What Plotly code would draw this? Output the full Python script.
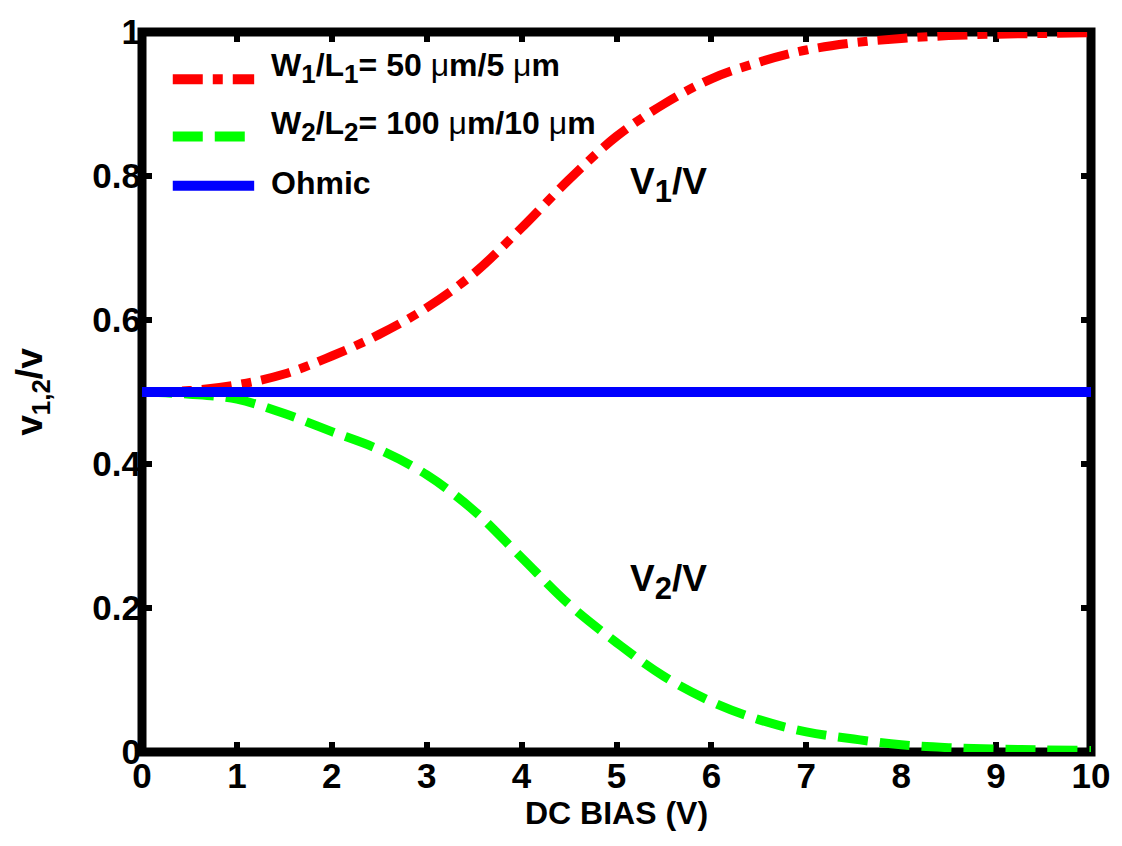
import plotly.graph_objects as go

bias = [0, 0.5, 1, 1.5, 2, 2.5, 3, 3.5, 4, 4.5, 5, 5.5, 6, 6.5, 7, 7.5, 8, 8.5, 9, 9.5, 10]
v1_ratio = [0.5, 0.502, 0.51, 0.525, 0.55, 0.58, 0.617, 0.665, 0.728, 0.795, 0.855, 0.9, 0.935,
            0.958, 0.975, 0.985, 0.991, 0.995, 0.997, 0.998, 0.999]
v2_ratio = [0.5, 0.497, 0.49, 0.47, 0.445, 0.42, 0.385, 0.335, 0.27, 0.205, 0.152, 0.105, 0.07,
            0.045, 0.028, 0.018, 0.01, 0.006, 0.004, 0.003, 0.002]
ohmic_x = [0, 10]
ohmic_y = [0.5, 0.5]

MU = '<span style="font-weight:normal">\u03bc</span>'
def SUB(s, size=26):
    return '<sub><span style="font-size:%dpx">%s</span></sub>' % (size, s)
legend_labels = ["W" + SUB("1") + "/L" + SUB("1") + "= 50 " + MU + "m/5 " + MU + "m",
                 "W" + SUB("2") + "/L" + SUB("2") + "= 100 " + MU + "m/10 " + MU + "m",
                 "Ohmic"]
x_ticks = list(range(0, 11))
y_ticks = [0, 0.2, 0.4, 0.6, 0.8, 1]
y_tick_text = ["0", "0.2", "0.4", "0.6", "0.8", "1"]

RED = "#ff0000"
GREEN = "#00ff00"
BLUE = "#0000ff"
RED_DASH = "30px,10px,10px,10px"
GREEN_DASH = "30px,12px"
FAM = "Arial, Liberation Sans, sans-serif"
def F(size):
    return dict(family=FAM, size=size, color="black", weight="bold")

fig = go.Figure()
fig.add_trace(go.Scatter(x=bias, y=v1_ratio, mode="lines", line=dict(color=RED, width=9, dash=RED_DASH, shape="spline"), showlegend=False))
fig.add_trace(go.Scatter(x=bias, y=v2_ratio, mode="lines", line=dict(color=GREEN, width=9, dash=GREEN_DASH, shape="spline"), showlegend=False))
fig.add_trace(go.Scatter(x=ohmic_x, y=ohmic_y, mode="lines", line=dict(color=BLUE, width=10), showlegend=False))

L, R, T, B = 142, 1098, 22, 752
W, H = R - L, B - T
def px(xp):
    return (xp - L) / W
def py(yp):
    return (B - yp) / H

# frame
fig.add_shape(type="rect", xref="paper", yref="paper", x0=0, x1=1, y0=0, y1=1,
              line=dict(color="black", width=9), layer="below")

# manual legend
leg_rows = [(70, RED, RED_DASH, 59), (128, GREEN, GREEN_DASH, 117), (178, BLUE, "solid", 175)]
for (yy, col, dsh, ty), lab in zip(leg_rows, legend_labels):
    fig.add_shape(type="line", xref="paper", yref="paper", x0=px(173), x1=px(255), y0=py(yy), y1=py(yy),
                  line=dict(color=col, width=10, dash=dsh))
    fig.add_annotation(xref="paper", yref="paper", x=px(270), y=py(ty), text=lab, showarrow=False,
                       xanchor="left", yanchor="middle", font=F(32))

fig.add_annotation(x=5.55, y=0.787, text="V" + SUB("1", 31) + "/V",
                   showarrow=False, yanchor="middle", font=F(37))
fig.add_annotation(x=5.55, y=0.236, text="V" + SUB("2", 31) + "/V",
                   showarrow=False, yanchor="middle", font=F(37))

axis_common = dict(showline=False, mirror="ticks", ticks="inside",
                   ticklen=10, tickwidth=6, tickcolor="black", showgrid=False, zeroline=False,
                   layer="below traces", tickfont=F(35))
fig.update_xaxes(range=[0, 10], tickvals=x_ticks, title=dict(text="DC BIAS (V)", font=F(32), standoff=2), **axis_common)
fig.update_yaxes(range=[0, 1], tickvals=y_ticks, ticktext=y_tick_text,
                 title=dict(text="v<sub>1,2</sub>/v", font=F(37), standoff=38), **axis_common)

fig.update_layout(width=1122, height=846, margin=dict(l=L, r=1122 - R, t=T, b=846 - B),
                  plot_bgcolor="white", paper_bgcolor="white", showlegend=False)

fig.write_html("out.html")
